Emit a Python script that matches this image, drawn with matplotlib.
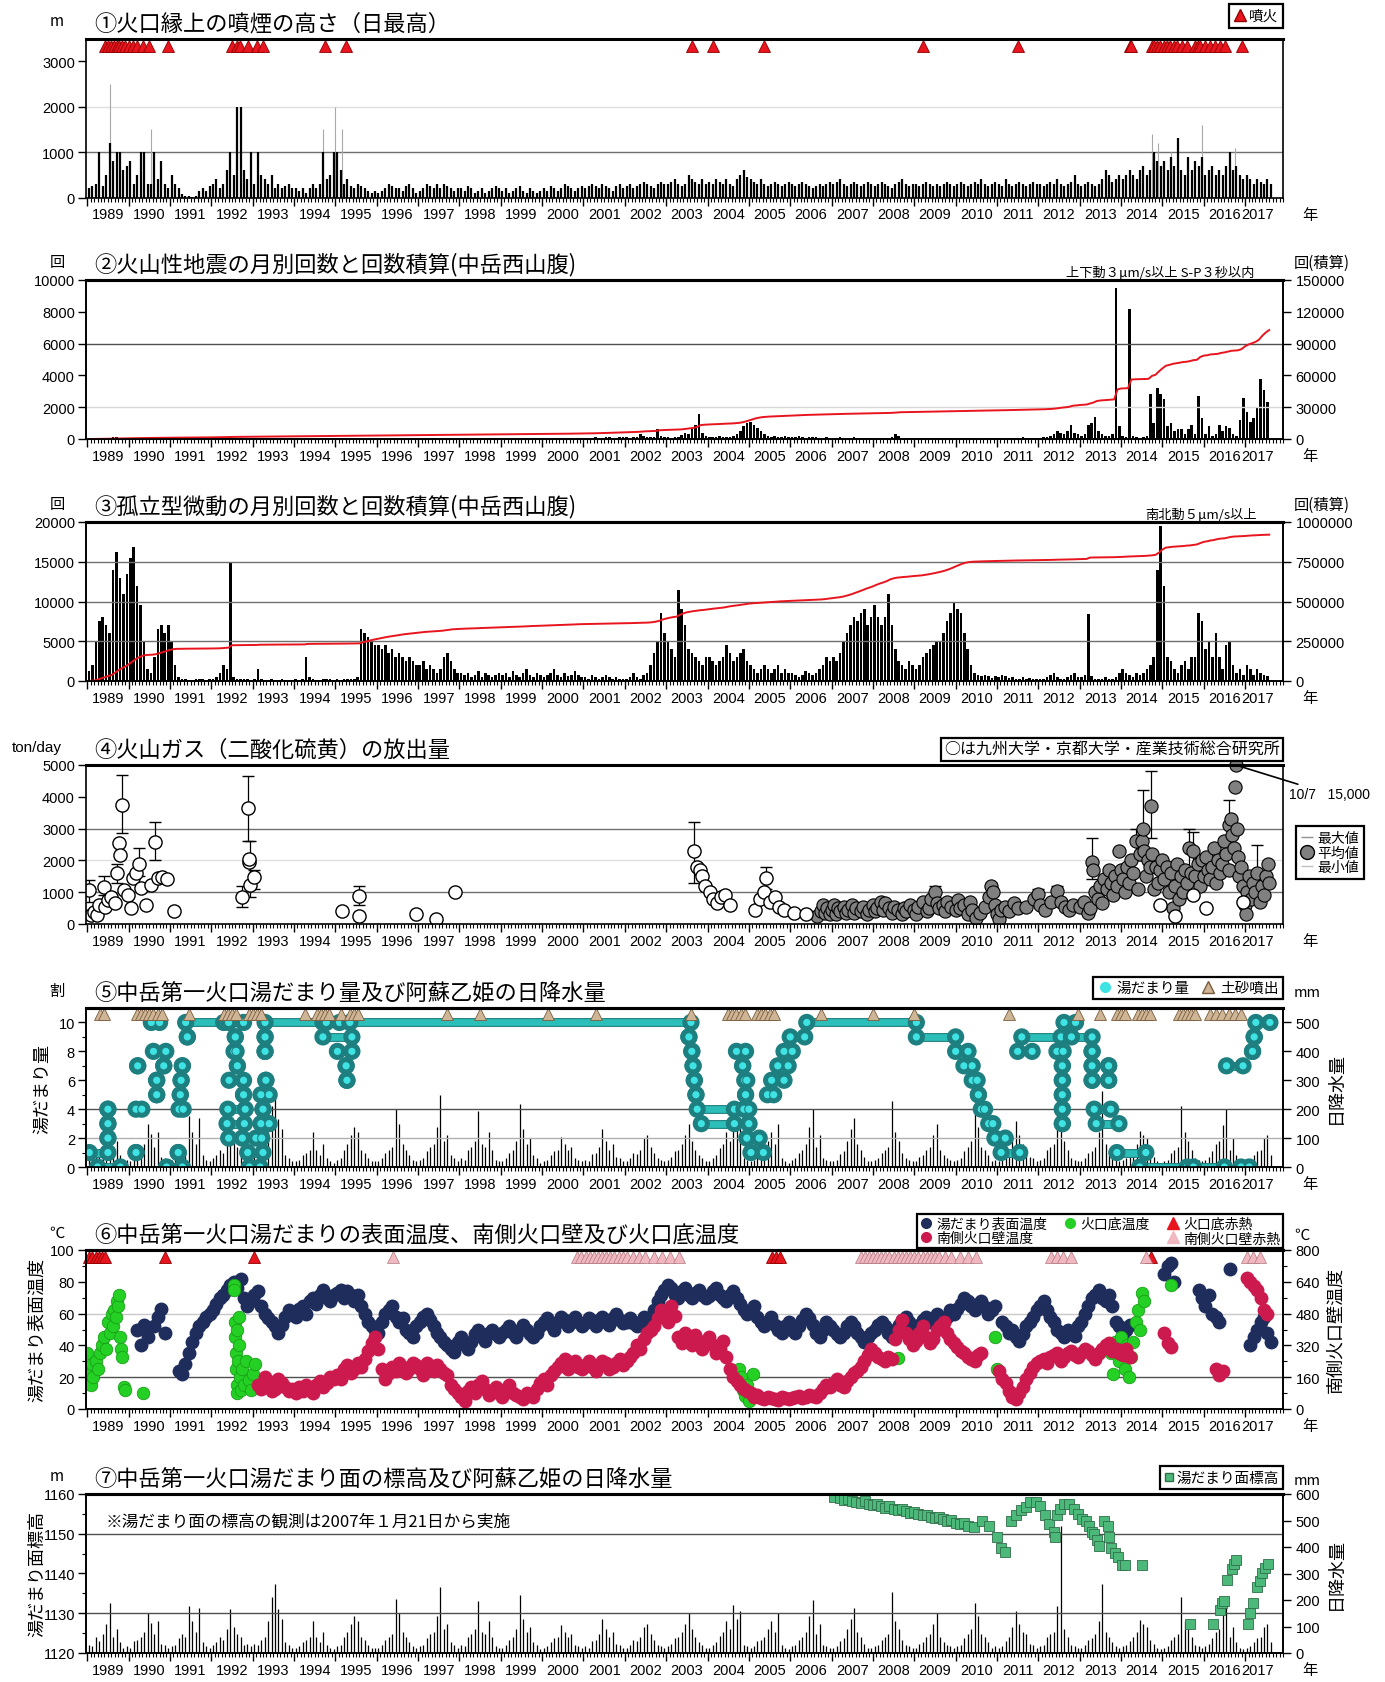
import numpy as np
import matplotlib
matplotlib.use("Agg")
import matplotlib.pyplot as plt
from matplotlib.lines import Line2D
from matplotlib.ticker import FormatStrFormatter
from matplotlib import patheffects as pe
from matplotlib import font_manager

# --- Fonts ---
JP = "Noto Sans CJK JP"
installed = {f.name for f in font_manager.fontManager.ttflist}
NUM = "Liberation Sans Narrow" if "Liberation Sans Narrow" in installed else "Liberation Sans"
plt.rcParams["font.family"] = [NUM, JP, "DejaVu Sans"]

# --- Data ---
years = list(range(1989, 2018))

# (1) plume height above crater rim, monthly max of daily max (m), 1989-01 .. 2017-08
plume_m = [
    200, 250, 300, 1000, 250, 500, 1200, 800, 1000, 1000, 600, 700,      # 1989
    800, 300, 500, 1000, 1000, 300, 300, 1000, 400, 800, 300, 200,       # 1990
    500, 300, 200, 80, 40, 30, 20, 30, 150, 200, 150, 250,               # 1991
    300, 400, 200, 300, 600, 1000, 500, 2000, 2000, 600, 400, 1000,      # 1992
    300, 1000, 500, 400, 300, 500, 200, 300, 200, 250, 300, 200,         # 1993
    200, 150, 200, 100, 200, 300, 200, 300, 1000, 400, 500, 1000,        # 1994
    1000, 600, 300, 400, 250, 200, 300, 250, 200, 150, 100, 150,         # 1995
    100, 150, 200, 300, 250, 200, 200, 150, 250, 300, 200, 100,          # 1996
    150, 200, 300, 250, 200, 300, 200, 300, 250, 200, 150, 200,          # 1997
    200, 150, 250, 200, 100, 150, 200, 100, 150, 200, 250, 200,          # 1998
    150, 200, 100, 150, 200, 250, 150, 100, 200, 150, 100, 150,          # 1999
    200, 150, 250, 200, 150, 200, 300, 250, 200, 150, 200, 250,          # 2000
    200, 250, 300, 250, 200, 300, 250, 200, 150, 250, 300, 200,          # 2001
    250, 300, 200, 250, 300, 350, 300, 250, 200, 300, 350, 300,          # 2002
    300, 350, 400, 300, 250, 300, 500, 400, 350, 300, 400, 300,          # 2003
    350, 300, 400, 350, 300, 400, 300, 250, 400, 500, 600, 450,          # 2004
    400, 350, 300, 400, 300, 250, 300, 350, 300, 250, 300, 350,          # 2005
    300, 250, 300, 350, 300, 250, 200, 250, 300, 250, 300, 350,          # 2006
    300, 350, 400, 300, 250, 300, 350, 300, 250, 300, 350, 300,          # 2007
    250, 300, 350, 300, 250, 200, 300, 350, 400, 300, 250, 300,          # 2008
    300, 250, 300, 350, 300, 250, 300, 250, 300, 350, 300, 250,          # 2009
    300, 350, 300, 250, 300, 350, 300, 400, 300, 250, 300, 350,          # 2010
    300, 250, 400, 300, 250, 300, 350, 300, 250, 300, 350, 300,          # 2011
    300, 250, 300, 350, 300, 400, 300, 250, 300, 350, 500, 300,          # 2012
    250, 300, 350, 300, 250, 300, 400, 600, 500, 350, 400, 500,          # 2013
    400, 500, 600, 500, 400, 600, 700, 500, 600, 1000, 800, 700,         # 2014
    800, 600, 900, 700, 1300, 600, 500, 900, 600, 800, 700, 900,         # 2015
    500, 600, 700, 500, 600, 500, 700, 1000, 600, 700, 500, 400,         # 2016
    500, 400, 300, 400, 350, 300, 400, 300,                              # 2017
]
plume_peak_year = [1989.55, 1990.55, 1992.62, 1994.70, 1995.00, 1995.15, 2014.75, 2014.90, 2015.20, 2015.96, 2016.75]
plume_peak_m = [2500, 1500, 1000, 1500, 2000, 1500, 1400, 1200, 1000, 1600, 1100]
eruption_year = [1989.43, 1989.50, 1989.57, 1989.64, 1989.71, 1989.78, 1989.85, 1989.92, 1990.00,
                 1990.10, 1990.20, 1990.35, 1990.50, 1990.96, 1992.51, 1992.62, 1992.70, 1992.89,
                 1993.10, 1993.25, 1994.74, 1995.26, 2003.62, 2004.13, 2005.36, 2009.22, 2011.52,
                 2014.22, 2014.25, 2014.75, 2014.80, 2014.87, 2014.95, 2015.03, 2015.10, 2015.19,
                 2015.27, 2015.35, 2015.47, 2015.59, 2015.79, 2015.85, 2015.91, 2016.03, 2016.15,
                 2016.27, 2016.39, 2016.51, 2016.92]

# (2) volcanic earthquakes per month, 1989-01 .. 2017-07
quake_count = [
    20, 30, 40, 60, 50, 40, 80, 120, 100, 60, 50, 40,
    50, 40, 30, 60, 80, 40, 30, 50, 40, 30, 30, 40,
    30, 20, 20, 30, 40, 30, 20, 20, 30, 40, 30, 30,
    40, 50, 60, 80, 100, 60, 50, 40, 40, 30, 30, 30,
    40, 30, 30, 40, 30, 20, 30, 30, 20, 30, 30, 20,
    20, 30, 30, 40, 50, 30, 30, 40, 60, 40, 30, 30,
    40, 50, 40, 30, 30, 30, 20, 30, 30, 30, 20, 30,
    20, 30, 30, 20, 30, 20, 30, 20, 30, 30, 20, 30,
    30, 20, 30, 30, 40, 30, 20, 30, 20, 30, 30, 20,
    30, 40, 30, 20, 30, 30, 40, 30, 20, 30, 40, 30,
    30, 20, 30, 40, 30, 30, 20, 40, 30, 30, 30, 40,
    40, 30, 30, 50, 40, 30, 60, 50, 40, 30, 40, 60,
    50, 80, 60, 120, 80, 60, 100, 150, 90, 80, 120, 100,
    100, 80, 120, 150, 300, 200, 120, 100, 150, 600, 200, 150,
    100, 80, 120, 150, 250, 400, 300, 600, 900, 1600, 400, 200,
    150, 100, 150, 200, 150, 100, 150, 200, 300, 500, 800, 1000,
    1100, 900, 700, 500, 300, 200, 150, 200, 100, 150, 200, 150,
    100, 150, 200, 100, 80, 100, 150, 100, 80, 60, 100, 80,
    80, 60, 100, 80, 60, 80, 100, 60, 80, 60, 50, 60,
    60, 80, 50, 60, 80, 150, 300, 200, 80, 60, 50, 60,
    50, 60, 80, 60, 50, 40, 60, 80, 60, 50, 60, 70,
    60, 80, 70, 60, 50, 60, 80, 60, 70, 80, 60, 50,
    70, 60, 80, 90, 60, 70, 80, 100, 80, 70, 60, 80,
    80, 100, 150, 200, 300, 500, 400, 300, 500, 900, 400, 300,
    200, 300, 900, 1000, 1400, 500, 300, 200, 200, 300, 9500, 800,
    200, 100, 8200, 200, 100, 50, 100, 200, 2800, 1000, 3200, 2800,
    2500, 800, 1000, 500, 600, 600, 300, 600, 900, 300, 2700, 1300,
    300, 800, 200, 300, 900, 500, 800, 700, 300, 200, 1200, 2600,
    1700, 1100, 1300, 2000, 3800, 3100, 2300,
]

# (3) isolated tremors per month, 1989-01 .. 2017-07
tremor_count = [
    1200, 2000, 5000, 7500, 8000, 7000, 6000, 14000, 16200, 13000, 11000, 13500,
    15500, 16800, 12000, 9500, 5000, 1500, 1000, 3000, 6500, 7000, 6000, 7000,
    5000, 2000, 500, 300, 200, 100, 100, 200, 300, 200, 100, 300,
    300, 500, 1000, 2000, 1500, 15000, 500, 300, 200, 300, 200, 100,
    200, 1500, 300, 100, 100, 200, 100, 100, 200, 100, 100, 100,
    200, 100, 300, 3000, 500, 200, 100, 100, 200, 300, 200, 100,
    200, 100, 200, 300, 200, 300, 500, 6500, 6000, 5500, 5000, 4500,
    4500, 4000, 4500, 3500, 4000, 3000, 3500, 3000, 2500, 3000, 2500, 2000,
    2000, 2500, 1500, 2000, 1500, 1000, 1500, 3000, 3500, 2500, 1500, 1000,
    1000, 800, 1000, 500, 800, 1200, 500, 1000, 800, 500, 800, 1000,
    800, 1000, 500, 1200, 800, 500, 1000, 1500, 800, 500, 1000, 800,
    500, 800, 1000, 1500, 800, 500, 1000, 600, 800, 1200, 800, 500,
    500, 300, 800, 500, 300, 500, 800, 500, 300, 500, 200, 300,
    300, 500, 1000, 500, 300, 800, 1000, 2000, 3500, 5000, 8500, 6000,
    5000, 4000, 3000, 11500, 9000, 7000, 4000, 3500, 3000, 2500, 2000, 3000,
    3000, 2500, 2000, 2500, 3000, 4500, 3500, 2500, 3000, 3500, 4000, 2500,
    2000, 1500, 1000, 1500, 2000, 1500, 1000, 1500, 2000, 1000, 1500, 1000,
    1000, 800, 500, 800, 1200, 1000, 800, 1000, 1500, 2000, 3000, 2500,
    3000, 2500, 3500, 5000, 6000, 7000, 8000, 7500, 8500, 9000, 7000, 8000,
    9500, 8000, 7000, 8000, 11000, 7000, 4000, 2500, 2000, 1500, 2500, 2000,
    1500, 2000, 3000, 3500, 4000, 4500, 5000, 5000, 6000, 7500, 8500, 9800,
    9000, 8500, 6000, 4000, 2000, 1000, 800, 600, 800, 600, 400, 600,
    500, 800, 600, 400, 500, 300, 200, 500, 300, 400, 300, 200,
    200, 300, 500, 800, 1000, 500, 300, 200, 500, 800, 1000, 500,
    500, 800, 8400, 600, 300, 200, 300, 500, 200, 300, 500, 1000,
    1500, 1000, 800, 500, 1000, 800, 1000, 1500, 2000, 3000, 14000, 19500,
    12000, 3000, 2500, 1500, 1000, 2000, 2500, 1500, 3000, 3000, 8500, 7500,
    4000, 5000, 3000, 6000, 3000, 1500, 4500, 5000, 2000, 1000, 1500, 800,
    2000, 1500, 800, 1500, 1000, 800, 600,
]

# (4) SO2 emission (ton/day)
so2_open_year = [1989.05, 1989.08, 1989.16, 1989.24, 1989.29, 1989.40, 1989.44, 1989.50, 1989.58, 1989.66,
                 1989.71, 1989.78, 1989.79, 1989.84, 1989.90, 1989.98, 1990.06, 1990.10, 1990.18, 1990.24,
                 1990.30, 1990.42, 1990.53, 1990.65, 1990.72, 1990.81, 1990.92, 1991.09,
                 1992.75, 1992.88, 1992.90, 1992.91, 1992.94, 1993.03,
                 1995.15, 1995.57, 1995.58, 1996.94, 1997.44, 1997.90,
                 2003.67, 2003.74, 2003.82, 2003.87, 2003.95, 2004.05, 2004.13, 2004.23, 2004.33, 2004.43,
                 2004.54, 2005.15, 2005.26, 2005.36, 2005.41, 2005.52, 2005.62, 2005.72, 2005.85, 2006.10,
                 2006.37, 2014.95, 2015.30, 2015.75, 2016.05, 2016.95]
so2_open_t = [1070, 280, 390, 280, 600, 1170, 550, 750, 860, 650,
              1590, 2540, 2170, 3740, 1070, 910, 490, 1440, 1590, 1900,
              1120, 600, 1230, 2590, 1440, 1490, 1400, 410,
              860, 3640, 1960, 2040, 1230, 1490,
              410, 890, 250, 310, 150, 1020,
              2300, 1800, 1700, 1500, 1200, 1000, 800, 650, 850, 900,
              600, 450, 800, 1000, 1450, 700, 850, 550, 450, 350,
              300, 600, 250, 900, 500, 700]
so2_open_bar_year = [1989.05, 1989.40, 1989.71, 1989.84, 1990.24, 1990.65, 1992.75, 1992.88, 1992.94,
                     1993.03, 1995.57, 2003.67, 2005.41]
so2_open_bar_min = [700, 900, 1300, 2850, 1500, 2000, 550, 2600, 850, 1100, 600, 1300, 1100]
so2_open_bar_max = [1380, 1500, 1900, 4700, 2400, 3200, 1200, 4650, 2600, 1700, 1200, 3200, 1800]

so2_gray_year = [2006.65, 2006.75, 2006.80, 2006.85, 2006.90, 2006.95, 2007.00, 2007.05, 2007.10, 2007.15,
                 2007.20, 2007.30, 2007.35, 2007.40, 2007.50, 2007.55, 2007.60, 2007.70, 2007.75, 2007.85,
                 2007.90, 2008.00, 2008.05, 2008.10, 2008.20, 2008.25, 2008.30, 2008.40, 2008.45, 2008.50,
                 2008.60, 2008.70, 2008.75, 2008.80, 2008.90, 2009.00, 2009.05, 2009.10, 2009.20, 2009.30,
                 2009.35, 2009.40, 2009.50, 2009.55, 2009.60, 2009.70, 2009.75, 2009.80, 2009.90, 2010.00,
                 2010.05, 2010.10, 2010.20, 2010.30, 2010.35, 2010.40, 2010.50, 2010.60, 2010.70, 2010.80,
                 2010.85, 2010.90, 2010.95, 2011.00, 2011.05, 2011.10, 2011.20, 2011.30, 2011.40, 2011.50,
                 2011.70, 2011.90, 2012.00, 2012.05, 2012.15, 2012.30, 2012.45, 2012.55, 2012.65, 2012.75,
                 2012.85, 2013.00, 2013.10, 2013.20, 2013.25, 2013.30, 2013.32, 2013.38, 2013.45, 2013.50,
                 2013.55, 2013.60, 2013.65, 2013.70, 2013.75, 2013.80, 2013.85, 2013.90, 2013.95, 2014.00,
                 2014.05, 2014.10, 2014.15, 2014.20, 2014.25, 2014.30, 2014.35, 2014.40, 2014.45, 2014.50,
                 2014.52, 2014.55, 2014.60, 2014.65, 2014.70, 2014.72, 2014.75, 2014.80, 2014.85, 2014.90,
                 2014.95, 2015.00, 2015.05, 2015.10, 2015.15, 2015.20, 2015.25, 2015.30, 2015.35, 2015.40,
                 2015.45, 2015.50, 2015.55, 2015.60, 2015.65, 2015.70, 2015.75, 2015.80, 2015.85, 2015.90,
                 2015.95, 2016.00, 2016.05, 2016.10, 2016.15, 2016.20, 2016.25, 2016.30, 2016.35, 2016.40,
                 2016.45, 2016.50, 2016.55, 2016.60, 2016.62, 2016.65, 2016.68, 2016.72, 2016.75, 2016.80,
                 2016.82, 2016.85, 2016.90, 2016.95, 2017.00, 2017.02, 2017.05, 2017.10, 2017.15, 2017.20,
                 2017.25, 2017.30, 2017.35, 2017.40, 2017.45, 2017.50, 2017.55, 2017.58]
so2_gray_t = [250, 400, 600, 350, 500, 300, 450, 600, 300, 500,
              400, 550, 350, 450, 600, 350, 500, 400, 550, 300,
              450, 600, 400, 500, 700, 450, 650, 500, 350, 550,
              450, 300, 500, 400, 600, 450, 300, 550, 700, 400,
              500, 800, 1000, 650, 500, 600, 400, 700, 550, 450,
              750, 500, 600, 300, 700, 450, 200, 350, 550, 850,
              1200, 1000, 600, 300, 150, 450, 550, 400, 650, 500,
              550, 800, 950, 600, 450, 700, 1050, 700, 550, 450,
              600, 550, 700, 350, 500, 1950, 1700, 1000, 800, 1200,
              650, 1400, 1100, 1700, 1300, 900, 1500, 1200, 2300, 1700,
              1400, 1000, 1800, 1300, 2000, 1600, 2600, 1100, 2200, 2600,
              3000, 2300, 1500, 2000, 1800, 3700, 2200, 1100, 1800, 1300,
              1700, 2000, 1400, 1800, 1000, 1600, 500, 1200, 1900, 800,
              1500, 1000, 1700, 1300, 2400, 1600, 2300, 1500, 1900, 1200,
              2000, 1500, 2100, 1700, 1400, 1800, 2400, 1300, 2000, 1600,
              1900, 2600, 2200, 1700, 3100, 3300, 2800, 2400, 4300, 3000,
              2100, 1500, 1800, 1200, 600, 300, 1000, 1500, 800, 1300,
              1000, 1600, 700, 1200, 900, 1500, 1900, 1300]
so2_gray_bar_year = [2009.50, 2010.85, 2012.00, 2012.45, 2013.30, 2014.35, 2014.52, 2014.72, 2015.65,
                     2015.75, 2016.62, 2017.30]
so2_gray_bar_min = [800, 900, 700, 800, 1400, 2000, 2000, 2700, 1800, 1700, 2500, 1100]
so2_gray_bar_max = [1200, 1300, 1100, 1200, 2700, 3000, 4200, 4800, 3000, 2900, 3900, 2500]
so2_peak_year = [2016.77]
so2_peak_t = [15000]

# (5) crater lake volume (tenths) as observed runs: start, end, level
lake_start = [1989.05, 1989.50, 1989.50, 1989.50, 1989.25, 1990.18, 1990.22, 1990.18, 1990.55, 1990.60,
              1990.68, 1990.68, 1990.85, 1990.92, 1991.20, 1991.22, 1991.25, 1991.27, 1991.30, 1991.42,
              1991.38, 1992.42, 1992.58, 1992.55, 1992.63, 1992.43, 1992.78, 1992.40, 1992.38, 1992.42,
              1992.88, 1992.92, 1993.08, 1993.20, 1993.25, 1993.20, 1993.32, 1993.30, 1993.30, 1993.30,
              1994.70, 1994.78, 1995.05, 1995.26, 1995.28, 1995.35, 2003.55, 2003.62, 2003.65, 2003.68,
              2003.72, 2003.75, 2003.85, 2004.70, 2004.85, 2004.90, 2004.92, 2004.88, 2005.00, 2004.95,
              2005.05, 2005.45, 2005.55, 2005.70, 2005.85, 2006.00, 2006.40, 2009.05, 2010.00, 2010.20,
              2010.40, 2010.55, 2010.62, 2010.80, 2010.95, 2011.10, 2011.50, 2011.60, 2012.45, 2012.58,
              2012.58, 2012.58, 2012.58, 2012.58, 2012.62, 2012.80, 2013.30, 2013.30, 2013.30, 2013.35,
              2013.40, 2013.70, 2013.70, 2013.90, 2014.45, 2015.75, 2016.55, 2016.90, 2017.18, 2017.22,
              2017.26]
lake_end = [1989.50, 1989.50, 1989.50, 1989.50, 1989.80, 1990.18, 1990.22, 1990.32, 1990.75, 1990.90,
            1990.68, 1990.68, 1990.85, 1991.30, 1991.20, 1991.32, 1991.25, 1991.27, 1991.30, 1991.42,
            1992.30, 1992.78, 1992.58, 1992.60, 1992.63, 1992.78, 1992.78, 1992.82, 1992.80, 1992.75,
            1993.25, 1993.18, 1993.22, 1993.40, 1993.25, 1993.40, 1993.32, 1993.30, 1993.30, 1994.70,
            1995.40, 1995.10, 1995.40, 1995.26, 1995.28, 2003.60, 2003.55, 2003.62, 2003.65, 2003.68,
            2003.72, 2004.65, 2004.65, 2004.92, 2004.85, 2004.95, 2004.92, 2005.00, 2005.00, 2005.25,
            2005.35, 2005.60, 2005.85, 2005.95, 2006.05, 2006.35, 2009.05, 2010.00, 2010.30, 2010.40,
            2010.52, 2010.55, 2010.70, 2010.90, 2011.20, 2011.55, 2011.85, 2012.55, 2012.60, 2012.58,
            2012.58, 2012.58, 2012.58, 2012.58, 2012.90, 2013.30, 2013.30, 2013.30, 2013.30, 2013.75,
            2013.95, 2013.70, 2013.70, 2014.60, 2015.60, 2016.50, 2016.95, 2017.10, 2017.18, 2017.22,
            2017.60]
lake_level = [1, 2, 3, 4, 0, 1, 7, 4, 10, 8,
              6, 5, 7, 0, 1, 4, 5, 6, 7, 9,
              10, 10, 9, 8, 7, 6, 5, 4, 3, 2,
              1, 0, 2, 3, 4, 5, 6, 8, 9, 10,
              9, 10, 8, 7, 6, 10, 9, 8, 7, 6,
              5, 4, 3, 8, 7, 6, 5, 4, 3, 2,
              1, 5, 6, 7, 8, 9, 10, 9, 8, 7,
              6, 5, 4, 3, 2, 1, 8, 9, 8, 7,
              6, 5, 4, 3, 10, 9, 8, 7, 6, 4,
              3, 7, 6, 1, 0, 0, 7, 0, 8, 9,
              10]
sediment_year = [1989.32, 1989.40, 1990.20, 1990.30, 1990.40, 1990.50, 1990.60, 1990.70, 1990.80, 1991.45,
                 1992.30, 1992.40, 1992.50, 1992.60, 1992.90, 1993.00, 1993.10, 1993.20, 1994.26, 1994.55,
                 1994.65, 1994.75, 1994.85, 1995.13, 1995.35, 1995.45, 1995.55, 1997.70, 1998.50, 2000.15,
                 2001.30, 2003.60, 2004.50, 2004.60, 2004.70, 2004.80, 2004.90, 2005.20, 2005.30, 2005.40,
                 2005.50, 2005.60, 2006.75, 2008.00, 2009.00, 2011.30, 2012.95, 2013.50, 2013.90, 2014.00,
                 2014.10, 2014.40, 2014.50, 2014.60, 2014.70, 2015.40, 2015.50, 2015.60, 2015.70, 2015.80,
                 2016.15, 2016.30, 2016.45, 2016.60, 2016.75, 2016.90]

# daily precipitation at Aso-Otohime, monthly max of daily totals (mm), 1989-01 .. 2017-08
rain_mm = [
    30, 25, 60, 45, 70, 110, 187, 60, 90, 40, 20, 25,
    20, 45, 50, 60, 80, 150, 115, 70, 120, 35, 30, 20,
    25, 30, 55, 70, 60, 177, 120, 80, 170, 40, 25, 20,
    30, 40, 60, 50, 90, 165, 100, 70, 60, 30, 35, 25,
    35, 30, 50, 60, 120, 210, 262, 165, 130, 40, 30, 20,
    20, 25, 40, 50, 60, 120, 60, 40, 80, 30, 20, 15,
    25, 30, 60, 80, 110, 140, 120, 60, 50, 30, 20, 20,
    20, 30, 50, 60, 70, 202, 150, 80, 60, 40, 25, 20,
    25, 30, 55, 70, 80, 140, 250, 90, 110, 40, 30, 20,
    30, 25, 60, 70, 90, 195, 80, 70, 120, 60, 25, 20,
    20, 30, 50, 60, 90, 217, 130, 80, 100, 40, 30, 15,
    20, 25, 40, 55, 60, 105, 80, 60, 70, 30, 25, 20,
    25, 20, 45, 50, 70, 130, 90, 60, 80, 35, 30, 20,
    20, 30, 50, 45, 60, 100, 110, 70, 50, 30, 25, 20,
    25, 35, 55, 60, 80, 110, 150, 90, 60, 40, 30, 20,
    20, 30, 40, 65, 80, 120, 90, 180, 130, 160, 30, 25,
    20, 25, 45, 50, 60, 90, 120, 80, 150, 30, 20, 15,
    25, 30, 50, 60, 80, 140, 200, 70, 110, 30, 25, 20,
    20, 25, 45, 55, 90, 130, 170, 80, 60, 35, 20, 20,
    25, 30, 50, 60, 70, 230, 120, 90, 50, 30, 25, 20,
    20, 35, 40, 60, 70, 110, 150, 60, 40, 30, 25, 20,
    25, 30, 55, 70, 90, 190, 140, 70, 60, 40, 20, 25,
    20, 25, 45, 60, 100, 160, 110, 80, 70, 35, 30, 20,
    25, 30, 60, 70, 80, 179, 480, 90, 60, 30, 25, 20,
    20, 30, 50, 55, 70, 120, 262, 80, 60, 40, 25, 20,
    25, 30, 45, 60, 80, 125, 110, 100, 50, 35, 20, 15,
    20, 25, 50, 60, 70, 212, 120, 90, 60, 30, 25, 20,
    25, 35, 55, 80, 90, 144, 200, 60, 100, 40, 20, 15,
    20, 25, 40, 55, 60, 100, 110, 40,
]

# (6) temperatures, monthly (deg C); None = no observation, 1989-01 .. 2017-08
N = None
lake_temp = [
    N, N, N, N, N, N, N, N, N, N, N, N,
    N, N, 50, 40, 53, 45, N, 52, 58, 63, 48, N,
    N, N, 24, 22, 28, 35, 42, 48, 52, 55, 58, 60,
    62, 66, 70, 72, 75, 78, 80, 76, 82, 70, 65, 68,
    72, 74, 65, 60, 57, 55, 52, 48, 53, 58, 62, 60,
    58, 63, 65, 60, 68, 70, 66, 72, 75, 70, 68, 72,
    73, 75, 70, 74, 72, 68, 72, 65, 60, 55, 52, 50,
    48, 55, 60, 62, 65, 58, 55, 57, 50, 48, 45, 52,
    55, 58, 60, 56, 52, 48, 45, 42, 40, 38, 36, 42,
    45, 40, 38, 42, 47, 50, 45, 43, 48, 50, 47, 45,
    48, 50, 52, 48, 45, 50, 53, 50, 47, 45, 48, 52,
    55, 57, 53, 50, 55, 58, 56, 52, 55, 58, 55, 52,
    54, 57, 55, 52, 56, 58, 55, 53, 57, 60, 56, 54,
    55, 57, 54, 52, 55, 58, 56, 58, 62, 68, 72, 75,
    78, 76, 72, 70, 74, 76, 72, 70, 73, 75, 72, 70,
    71, 74, 76, 72, 70, 68, 72, 74, 70, 66, 62, 60,
    62, 65, 58, 55, 52, 55, 58, 53, 50, 48, 52, 55,
    50, 48, 52, 56, 60, 57, 53, 48, 45, 50, 55, 52,
    50, 47, 45, 48, 52, 55, 52, 48, 45, 42, 45, 48,
    50, 53, 55, 52, 48, 45, 50, 53, 56, 58, 55, 52,
    50, 53, 56, 58, 55, 57, 60, 58, 55, 58, 62, 60,
    63, 66, 70, 68, 65, 62, 66, 68, 64, 60, 62, 65,
    N, 55, 52, 48, 50, 45, 43, 47, 52, 55, 58, 62,
    65, 68, 62, 58, 55, 50, 48, 45, 50, 48, 46, 52,
    55, 60, 65, 70, 72, 75, 70, 68, 72, 65, 55, 52,
    48, 50, 53, N, N, N, N, N, N, N, N, N,
    85, 90, 92, 80, N, N, N, N, N, N, 75, 70,
    65, 72, 60, 58, 55, N, N, 88, N, N, N, N,
    N, 40, 45, 50, 55, 58, 48, 42,
]
wall_temp = [
    N, N, N, N, N, N, N, N, N, N, N, N,
    N, N, N, N, N, N, N, N, N, N, N, N,
    N, N, N, N, N, N, N, N, N, N, N, N,
    N, N, N, N, N, N, N, N, N, N, N, N,
    N, 120, 100, 160, 140, 90, 100, 150, 130, 110, 90, 100,
    80, 110, 90, 120, 100, 80, 120, 140, 110, 130, 160, 150,
    170, 150, 200, 220, 180, 200, 230, 210, 250, 290, 330, 360,
    300, 200, 150, 180, 210, 190, 230, 210, 180, 200, 230, 220,
    200, 170, 230, 210, 190, 220, 200, 180, 170, 120, 100, 80,
    60, 40, 90, 110, 80, 120, 140, 100, 70, 90, 110, 80,
    60, 100, 120, 80, 70, 60, 50, 80, 70, 60, 100, 130,
    150, 120, 170, 190, 210, 230, 250, 200, 220, 240, 210, 200,
    220, 240, 210, 190, 220, 240, 230, 200, 210, 230, 250, 220,
    240, 260, 280, 320, 300, 350, 380, 400, 420, 460, 500, 480,
    440, 520, 470, 360, 330, 380, 350, 320, 370, 340, 300, 330,
    360, 320, 280, 300, 340, 260, 200, 160, 140, 120, 100, 90,
    80, 60, 70, 55, 50, 60, 55, 50, 45, 60, 55, 50,
    55, 60, 65, 55, 60, 70, 65, 60, 80, 100, 120, 110,
    130, 150, 120, 110, 140, 160, 180, 190, 210, 240, 270, 300,
    280, 260, 250, 240, 260, 250, 350, 400, 450, 380, 350, 320,
    340, 380, 420, 360, 330, 350, 400, 420, 440, 380, 350, 330,
    310, 290, 280, 260, 250, 240, 270, 280, N, N, N, N,
    190, 150, 130, 90, 60, 50, 80, 110, 150, 180, 210, 230,
    240, 250, 230, 260, 270, 280, 240, 260, 280, 290, 270, 260,
    280, 300, 290, 270, 250, 280, 300, 320, 330, 290, 300, 280,
    270, 300, 260, N, N, N, N, N, N, N, N, N,
    380, 330, 310, N, N, N, N, N, N, N, N, N,
    N, N, N, 200, 170, 190, N, N, N, N, N, N,
    660, 640, 620, 600, 560, 500, 480, N,
]
floor_year = [1989.00, 1989.03, 1989.05, 1989.08, 1989.10, 1989.12, 1989.15, 1989.20, 1989.25, 1989.30,
              1989.35, 1989.40, 1989.45, 1989.50, 1989.55, 1989.60, 1989.62, 1989.65, 1989.70, 1989.72,
              1989.75, 1989.78, 1989.80, 1989.82, 1989.85, 1989.90, 1989.92, 1990.35,
              1992.55, 1992.56, 1992.57, 1992.58, 1992.59, 1992.60, 1992.61, 1992.62, 1992.63, 1992.64,
              1992.66, 1992.68, 1992.70, 1992.72, 1992.75, 1992.80, 1992.85, 1992.90, 1992.95, 1993.00,
              1993.05, 2004.75, 2004.80, 2004.85, 2004.90, 2004.95, 2005.00, 2005.05, 2005.10, 2008.60,
              2010.95, 2011.00, 2013.70, 2013.75, 2013.80, 2013.85, 2013.90, 2013.95, 2014.00, 2014.05,
              2014.10, 2014.15, 2014.20, 2014.25, 2014.30, 2014.35, 2014.40, 2014.45, 2014.50, 2014.55,
              2015.20]
floor_temp = [35, 25, 18, 22, 15, 28, 20, 30, 25, 35,
              40, 45, 38, 55, 48, 60, 52, 62, 58, 68,
              65, 72, 45, 38, 33, 14, 12, 10,
              78, 75, 55, 45, 35, 25, 15, 10, 50, 30,
              40, 58, 20, 12, 25, 15, 30, 18, 12, 22,
              28, 25, 20, 12, 8, 15, 5, 10, 22, 32,
              45, 25, 40, 35, 22, 42, 38, 30, 45, 35,
              25, 40, 20, 33, 42, 55, 62, 50, 73, 68,
              78]
floor_glow_year = [1989.05, 1989.12, 1989.20, 1989.28, 1989.36, 1989.44, 1990.89, 1993.03, 2005.55, 2005.65,
                   2005.75, 2014.72]
wall_glow_year = [1996.40, 2000.85, 2000.95, 2001.05, 2001.15, 2001.25, 2001.35, 2001.45, 2001.55, 2001.65,
                  2001.75, 2001.85, 2001.95, 2002.05, 2002.20, 2002.35, 2002.50, 2002.70, 2002.90, 2003.10,
                  2003.30, 2007.70, 2007.80, 2007.90, 2008.00, 2008.10, 2008.20, 2008.30, 2008.40, 2008.50,
                  2008.60, 2008.70, 2008.80, 2008.90, 2009.00, 2009.10, 2009.20, 2009.30, 2009.40, 2009.50,
                  2009.60, 2009.75, 2009.90, 2010.10, 2010.30, 2010.50, 2012.30, 2012.45, 2012.60, 2012.80,
                  2014.60, 2017.05, 2017.20, 2017.35]

# (7) crater lake surface elevation (m)
elev_year = [2007.07, 2007.20, 2007.30, 2007.40, 2007.50, 2007.60, 2007.70, 2007.80, 2007.90, 2008.00,
             2008.10, 2008.20, 2008.30, 2008.40, 2008.50, 2008.60, 2008.70, 2008.80, 2008.90, 2009.00,
             2009.10, 2009.20, 2009.30, 2009.40, 2009.50, 2009.60, 2009.70, 2009.80, 2009.90, 2010.00,
             2010.10, 2010.20, 2010.30, 2010.45, 2010.64, 2010.80, 2011.00, 2011.10, 2011.20, 2011.34,
             2011.46, 2011.58, 2011.70, 2011.80, 2011.95, 2012.05, 2012.15, 2012.25, 2012.37, 2012.40,
             2012.45, 2012.53, 2012.62, 2012.75, 2012.86, 2012.95, 2013.05, 2013.15, 2013.22, 2013.30,
             2013.35, 2013.42, 2013.47, 2013.60, 2013.68, 2013.72, 2013.76, 2013.85, 2013.93, 2014.03,
             2014.10, 2014.50, 2015.67, 2016.23, 2016.40, 2016.45, 2016.50, 2016.56, 2016.68, 2016.72,
             2016.77, 2017.06, 2017.12, 2017.20, 2017.30, 2017.35, 2017.42, 2017.48, 2017.55]
elev_m = [1159.2, 1159.0, 1158.6, 1158.8, 1158.3, 1158.0, 1157.8, 1158.2, 1157.6, 1157.2,
          1157.5, 1157.0, 1156.6, 1156.9, 1156.3, 1156.0, 1156.2, 1155.6, 1155.3, 1155.5,
          1155.0, 1154.6, 1154.8, 1154.2, 1154.0, 1154.3, 1153.6, 1153.2, 1153.5, 1152.8,
          1152.5, 1152.7, 1152.0, 1151.8, 1153.3, 1152.0, 1149.3, 1146.3, 1145.4, 1153.3,
          1154.6, 1156.0, 1156.7, 1157.9, 1157.9, 1157.0, 1154.6, 1152.5, 1150.4, 1149.2,
          1154.6, 1156.2, 1157.5, 1157.5, 1156.2, 1155.0, 1153.7, 1153.3, 1152.0, 1150.4,
          1150.0, 1148.5, 1147.0, 1153.3, 1152.0, 1149.2, 1146.3, 1145.2, 1144.2, 1142.1,
          1142.1, 1142.1, 1127.3, 1127.3, 1130.8, 1132.5, 1133.0, 1138.3, 1141.2, 1142.5,
          1143.3, 1127.3, 1130.0, 1132.5, 1136.5, 1138.0, 1140.0, 1141.5, 1142.5]

# --- Layout helpers ---
W, H = 1385, 1683
fig = plt.figure(figsize=(W / 100, H / 100), dpi=100)
AX_L, AX_R, AX_H = 86, 1283, 159
tops = [39.5, 281, 523, 766, 1009, 1251, 1495]
X0, X1 = 1988.97, 2017.62

month_mid = 1989 + (np.arange(344) + 0.5) / 12
month_end = 1989 + (np.arange(344) + 1.0) / 12
label_pos = [y + 0.5 for y in years[:-1]] + [2017.31]


def fx(px):
    return px / W


def fy(py):
    return 1 - py / H


def jp(size):
    return {"family": [JP, "DejaVu Sans"], "size": size}


def box(ax):
    for s in ax.spines.values():
        s.set_linewidth(1.2)
    ax.spines["top"].set_linewidth(2.2)


def make_axes(top):
    ax = fig.add_axes([fx(AX_L), fy(top + AX_H), (AX_R - AX_L) / W, AX_H / H])
    ax.set_xlim(X0, X1)
    ax.set_xticks(years)
    ax.set_xticks(1989 + np.arange(29 * 12) / 12, minor=True)
    ax.tick_params(axis="x", which="major", length=6, width=1, labelbottom=False)
    ax.tick_params(axis="x", which="minor", length=3, width=0.8)
    ax.tick_params(axis="y", which="major", length=6, width=1, pad=2, labelsize=10.5)
    ax.tick_params(axis="y", which="minor", length=3, width=0.8)
    for p, yr in zip(label_pos, years):
        ax.text(p, -0.105, str(yr), transform=ax.get_xaxis_transform(), ha="center", va="center", fontsize=10.5)
    ax.text(1.016, -0.105, "年", transform=ax.transAxes, ha="left", va="center", fontdict=jp(11))
    box(ax)
    return ax


def twin(ax):
    t = ax.twinx()
    box(t)
    t.tick_params(axis="y", which="major", length=6, width=1, pad=3, labelsize=10.5)
    t.tick_params(axis="y", which="minor", length=3, width=0.8)
    return t


def swap_sides(main, other):
    # rain goes on the main axes (right ticks) so the twin's marks are drawn on top
    main.yaxis.tick_right()
    main.tick_params(axis="y", which="both", left=False, right=True, labelleft=False, labelright=True, pad=3)
    other.yaxis.tick_left()
    other.tick_params(axis="y", which="both", left=True, right=False, labelleft=True, labelright=False, pad=2)


def title(top, text):
    fig.text(fx(94), fy(top - 16), text, ha="left", va="center", fontdict=jp(16))


def unit_left(top, text, x=57, size=11):
    fig.text(fx(x), fy(top - 18), text, ha="center", va="center", fontdict=jp(size))


def unit_right(top, text, size=11, dy=18):
    fig.text(fx(1294), fy(top - dy), text, ha="left", va="center", fontdict=jp(size))


def vlabel(top, x, text):
    fig.text(fx(x), fy(top + AX_H / 2), text, rotation=90, ha="center", va="center", fontdict=jp(13))


def frame_legend(leg):
    f = leg.get_frame()
    f.set_edgecolor("black")
    f.set_linewidth(1.6)
    f.set_boxstyle("square", pad=0)


RED = "#e8141e"

# --- Panel 1: plume height ---
ax1 = make_axes(tops[0])
ax1.axhline(1000, color="#707070", lw=1)
ax1.axhline(2000, color="#e0e0e0", lw=1)
ax1.vlines(plume_peak_year, 0, plume_peak_m, color="#a8a8a8", lw=0.8)
ax1.vlines(month_mid[:len(plume_m)], 0, plume_m, color="black", lw=1.6)
ax1.plot(eruption_year, [0.955] * len(eruption_year), ls="", marker="^", ms=9, mfc=RED, mec="#900000",
         mew=0.6, transform=ax1.get_xaxis_transform(), clip_on=False)
ax1.set_ylim(0, 3500)
ax1.set_yticks([0, 1000, 2000, 3000])
title(tops[0], "①火口縁上の噴煙の高さ（日最高）")
unit_left(tops[0], "m")
leg = ax1.legend(handles=[Line2D([], [], ls="", marker="^", ms=8, mfc=RED, mec="#900000")], labels=["噴火"],
                 loc="lower right", bbox_to_anchor=(1.0, 1.066), borderaxespad=0, prop=jp(10.5),
                 handlelength=0.8, handletextpad=0.2, borderpad=0.35, fancybox=False, framealpha=1)
frame_legend(leg)

# --- Panel 2: volcanic earthquakes ---
ax2 = make_axes(tops[1])
ax2.axhline(6000, color="#505050", lw=1)
ax2.axhline(2000, color="#d8d8d8", lw=1)
ax2.bar(month_mid[:len(quake_count)], quake_count, width=0.062, color="black")
ax2.set_ylim(0, 10000)
ax2.set_yticks(range(0, 10001, 2000))
ax2r = twin(ax2)
ax2r.plot(month_end[:len(quake_count)], np.cumsum(quake_count), color=RED, lw=1.4)
ax2r.set_ylim(0, 150000)
ax2r.set_yticks(range(0, 150001, 30000))
ax2r.yaxis.set_major_formatter(FormatStrFormatter("%d"))
title(tops[1], "②火山性地震の月別回数と回数積算(中岳西山腹)")
unit_left(tops[1], "回")
unit_right(tops[1], "回(積算)", size=11)
fig.text(fx(1255), fy(tops[1] - 8), "上下動３μm/s以上 S-P３秒以内", ha="right", va="center", fontdict=jp(9.5))

# --- Panel 3: isolated tremors ---
ax3 = make_axes(tops[2])
for lv in (5000, 10000, 15000):
    ax3.axhline(lv, color="#707070", lw=1)
ax3.bar(month_mid[:len(tremor_count)], tremor_count, width=0.062, color="black")
ax3.set_ylim(0, 20000)
ax3.set_yticks(range(0, 20001, 5000))
ax3r = twin(ax3)
ax3r.plot(month_end[:len(tremor_count)], np.cumsum(tremor_count), color=RED, lw=1.4)
ax3r.set_ylim(0, 1000000)
ax3r.set_yticks(range(0, 1000001, 250000))
ax3r.yaxis.set_major_formatter(FormatStrFormatter("%d"))
title(tops[2], "③孤立型微動の月別回数と回数積算(中岳西山腹)")
unit_left(tops[2], "回")
unit_right(tops[2], "回(積算)", size=11)
fig.text(fx(1257), fy(tops[2] - 8), "南北動５μm/s以上", ha="right", va="center", fontdict=jp(9.5))

# --- Panel 4: SO2 emission ---
ax4 = make_axes(tops[3])
ax4.axhline(1000, color="#707070", lw=1)
ax4.axhline(3000, color="#707070", lw=1)
ax4.axhline(2000, color="#e0e0e0", lw=1)
ax4.vlines(so2_open_bar_year, so2_open_bar_min, so2_open_bar_max, color="black", lw=0.9)
ax4.plot(so2_open_bar_year, so2_open_bar_max, ls="", marker="_", ms=9, color="black", mew=1)
ax4.plot(so2_open_bar_year, so2_open_bar_min, ls="", marker="_", ms=9, color="black", mew=1)
ax4.vlines(so2_gray_bar_year, so2_gray_bar_min, so2_gray_bar_max, color="black", lw=0.9)
ax4.plot(so2_gray_bar_year, so2_gray_bar_max, ls="", marker="_", ms=9, color="black", mew=1)
ax4.plot(so2_gray_bar_year, so2_gray_bar_min, ls="", marker="_", ms=9, color="black", mew=1)
ax4.plot(so2_gray_year, so2_gray_t, ls="", marker="o", ms=9.5, mfc="#808080", mec="black", mew=0.8)
ax4.plot(so2_open_year, so2_open_t, ls="", marker="o", ms=9.5, mfc="white", mec="black", mew=1)
ax4.set_ylim(0, 5000)
ax4.set_yticks(range(0, 5001, 1000))
peak_shown = np.minimum(so2_peak_t, 5000)
ax4.plot(so2_peak_year, peak_shown, ls="", marker="o", ms=9.5, mfc="#808080", mec="black", mew=0.8, clip_on=False)
ax4.annotate("10/7   15,000", xy=(so2_peak_year[0], peak_shown[0]), xycoords="data",
             xytext=(fx(1289), fy(795)), textcoords="figure fraction", ha="left", va="center",
             fontsize=10, arrowprops=dict(arrowstyle="-", color="black", lw=1.2, shrinkA=0, shrinkB=4),
             annotation_clip=False)
title(tops[3], "④火山ガス（二酸化硫黄）の放出量")
fig.text(fx(37), fy(tops[3] - 18), "ton/day", ha="center", va="center", fontsize=11)
leg = ax4.legend(handles=[Line2D([], [], ls="", marker="o", ms=0)], labels=["○は九州大学・京都大学・産業技術総合研究所"],
                 loc="lower right", bbox_to_anchor=(1.0, 1.025), borderaxespad=0, prop=jp(11.5),
                 handlelength=0, handletextpad=0, borderpad=0.2, fancybox=False, framealpha=1)
frame_legend(leg)
leg2 = fig.legend(handles=[Line2D([], [], ls="", marker="_", ms=8, color="#909090"),
                           Line2D([], [], ls="", marker="o", ms=10, mfc="#808080", mec="black"),
                           Line2D([], [], ls="", marker="_", ms=8, color="#c0c0c0")],
                  labels=["最大値", "平均値", "最小値"], loc="upper left",
                  bbox_to_anchor=(fx(1289), fy(820)), prop=jp(10), labelspacing=0.05,
                  handlelength=0.9, handletextpad=0.3, borderpad=0.35, fancybox=False, framealpha=1)
frame_legend(leg2)

# --- Panel 5: crater lake volume + precipitation ---
CYAN, TEAL, RUN = "#3fe3e3", "#1d7f80", "#2cbfba"
ax5 = make_axes(tops[4])
ax5.vlines(month_mid[:len(rain_mm)], 0, rain_mm, color="black", lw=0.9)
ax5.set_ylim(0, 550)
ax5l = twin(ax5)
swap_sides(ax5, ax5l)
ax5.set_yticks(range(0, 501, 100))
ax5l.axhline(4, color="#505050", lw=1)
ax5l.axhline(2, color="#b0b0b0", lw=1)
for s, e, lv in zip(lake_start, lake_end, lake_level):
    ax5l.plot([s, e], [lv, lv], color=RUN, lw=4.8, solid_capstyle="round", marker="o", ms=6,
              mfc=CYAN, mec=TEAL, mew=0.8,
              path_effects=[pe.Stroke(linewidth=6.4, foreground=TEAL), pe.Normal()])
ax5l.plot(sediment_year, [0.965] * len(sediment_year), ls="", marker="^", ms=9, mfc="#cdb596", mec="#7a5c3c",
          mew=0.6, transform=ax5l.get_xaxis_transform(), clip_on=False)
ax5l.set_ylim(0, 11)
ax5l.set_yticks(range(0, 11, 2))
ax5l.set_yticks(range(0, 11), minor=True)
title(tops[4], "⑤中岳第一火口湯だまり量及び阿蘇乙姫の日降水量")
unit_left(tops[4], "割")
unit_right(tops[4], "mm", size=10.5, dy=16)
vlabel(tops[4], 42, "湯だまり量")
vlabel(tops[4], 1336, "日降水量")
leg = ax5l.legend(handles=[Line2D([], [], ls="", marker="o", ms=7, mfc=CYAN, mec=CYAN),
                           Line2D([], [], ls="", marker="^", ms=8, mfc="#cdb596", mec="#7a5c3c")],
                  labels=["湯だまり量", "土砂噴出"], ncol=2, loc="lower right", bbox_to_anchor=(1.0, 1.055),
                  borderaxespad=0, prop=jp(10.5), handlelength=1.0, handletextpad=0.3, columnspacing=0.8,
                  borderpad=0.3, fancybox=False, framealpha=1)
frame_legend(leg)

# --- Panel 6: temperatures ---
NAVY, CRIMSON, GREEN, PINK = "#1f2d5c", "#cc1a4e", "#24d024", "#f2b8c2"
ax6 = make_axes(tops[5])
ax6.axhline(20, color="#505050", lw=1)
ax6.axhline(60, color="#c8c8c8", lw=1)
ax6.plot(month_mid[:len(lake_temp)], np.array(lake_temp, dtype=float), ls="", marker="o", ms=9,
         mfc=NAVY, mec=NAVY)
ax6.plot(floor_year, floor_temp, ls="", marker="o", ms=9, mfc=GREEN, mec="#18a018", mew=0.6)
ax6.plot(floor_glow_year, [0.955] * len(floor_glow_year), ls="", marker="^", ms=9, mfc=RED, mec="#900000",
         mew=0.6, transform=ax6.get_xaxis_transform(), clip_on=False)
ax6.plot(wall_glow_year, [0.955] * len(wall_glow_year), ls="", marker="^", ms=9, mfc=PINK, mec="#b07880",
         mew=0.5, transform=ax6.get_xaxis_transform(), clip_on=False)
ax6.set_ylim(0, 100)
ax6.set_yticks(range(0, 101, 20))
ax6.set_yticks(range(0, 101, 10), minor=True)
ax6r = twin(ax6)
ax6r.plot(month_mid[:len(wall_temp)], np.array(wall_temp, dtype=float), ls="", marker="o", ms=9,
          mfc=CRIMSON, mec=CRIMSON)
ax6r.set_ylim(0, 800)
ax6r.set_yticks(range(0, 801, 160))
ax6r.set_yticks(range(0, 801, 80), minor=True)
title(tops[5], "⑥中岳第一火口湯だまりの表面温度、南側火口壁及び火口底温度")
unit_left(tops[5], "℃", size=11)
unit_right(tops[5], "℃", size=11, dy=16)
vlabel(tops[5], 37, "湯だまり表面温度")
vlabel(tops[5], 1336, "南側火口壁温度")
h = [Line2D([], [], ls="", marker="o", ms=7, mfc=NAVY, mec=NAVY),
     Line2D([], [], ls="", marker="o", ms=7, mfc=CRIMSON, mec=CRIMSON),
     Line2D([], [], ls="", marker="o", ms=7, mfc=GREEN, mec=GREEN),
     Line2D([], [], ls="", marker=""),
     Line2D([], [], ls="", marker="^", ms=8, mfc=RED, mec=RED),
     Line2D([], [], ls="", marker="^", ms=8, mfc=PINK, mec=PINK)]
leg = ax6r.legend(handles=h, labels=["湯だまり表面温度", "南側火口壁温度", "火口底温度", "", "火口底赤熱", "南側火口壁赤熱"],
                  ncol=3, loc="lower right", bbox_to_anchor=(1.0, 1.012), borderaxespad=0, prop=jp(10),
                  handlelength=0.9, handletextpad=0.3, columnspacing=1.2, labelspacing=0.05,
                  borderpad=0.2, fancybox=False, framealpha=1)
frame_legend(leg)

# --- Panel 7: crater lake surface elevation + precipitation ---
SQ = "#4cb87a"
ax7 = make_axes(tops[6])
ax7.vlines(month_mid[:len(rain_mm)], 0, rain_mm, color="black", lw=0.9)
ax7.set_ylim(0, 600)
ax7l = twin(ax7)
swap_sides(ax7, ax7l)
ax7.set_yticks(range(0, 601, 100))
ax7l.axhline(1130, color="#505050", lw=1)
ax7l.axhline(1150, color="#505050", lw=1)
ax7l.plot(elev_year, elev_m, ls="", marker="s", ms=7.5, mfc=SQ, mec="#2f6f4a", mew=0.6)
ax7l.set_ylim(1120, 1160)
ax7l.set_yticks(range(1120, 1161, 10))
ax7l.set_yticks(range(1120, 1161, 5), minor=True)
ax7l.text(0.016, 0.83, "※湯だまり面の標高の観測は2007年１月21日から実施", transform=ax7l.transAxes,
          ha="left", va="center", fontdict=jp(12))
title(tops[6], "⑦中岳第一火口湯だまり面の標高及び阿蘇乙姫の日降水量")
unit_left(tops[6], "m")
unit_right(tops[6], "mm", size=10.5, dy=14)
vlabel(tops[6], 37, "湯だまり面標高")
vlabel(tops[6], 1336, "日降水量")
leg = ax7l.legend(handles=[Line2D([], [], ls="", marker="s", ms=6, mfc=SQ, mec="#2f6f4a")],
                  labels=["湯だまり面標高"], loc="lower right", bbox_to_anchor=(1.0, 1.03), borderaxespad=0,
                  prop=jp(10.5), handlelength=0.6, handletextpad=0.2, borderpad=0.3, fancybox=False,
                  framealpha=1)
frame_legend(leg)

fig.savefig("out.png", dpi=100)
